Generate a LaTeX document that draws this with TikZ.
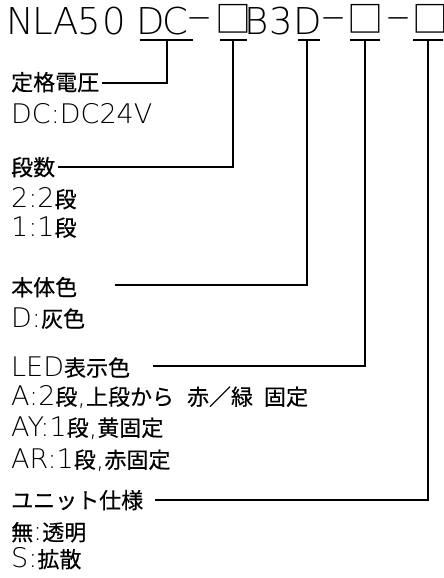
\documentclass[tikz,border=0pt]{standalone}
\usepackage{fontspec}
\newfontfamily\cjk{Noto Sans CJK JP}[FakeBold=0.4]
\newfontfamily\cjkbox{Noto Sans CJK JP}
\newfontfamily\lat{DejaVu Sans ExtraLight}
\newcommand\La[1]{{\lat\fontsize{27}{27}\selectfont #1}}
\begin{document}
\begin{tikzpicture}[x=1pt,y=-1pt,
  tt/.style={anchor=base,inner sep=0,font=\lat\fontsize{37}{37}\selectfont},
  dsh/.style={anchor=center,inner sep=0,xscale=1.3,font=\lat\fontsize{37}{37}\selectfont},
  bx/.style={anchor=center,inner sep=0,font=\cjkbox\fontsize{36}{36}\selectfont},
  lbl/.style={anchor=base west,inner sep=0,font=\cjk\fontsize{22}{22}\selectfont},
  ln/.style={line width=1.1pt}]
\useasboundingbox (0,0) rectangle (444,578);
% title
\node[tt] (t1) at (20,35) {N};
\node[tt] (t2) at (42.5,35) {L};
\node[tt] (t3) at (66,35) {A};
\node[tt] (t4) at (89,35) {5};
\node[tt] (t5) at (114,35) {0};
\node[tt] (t6) at (151,35) {D};
\node[tt] (t7) at (175,35) {C};
\node[dsh] (t8) at (199.5,23) {–};
\node[bx] (t9) at (233.5,19) {□};
\node[tt] (t10) at (257,35) {B};
\node[tt] (t11) at (281,35) {3};
\node[tt] (t12) at (308,35) {D};
\node[dsh] (t13) at (333.5,23) {–};
\node[bx] (t14) at (365,19) {□};
\node[dsh] (t15) at (398.5,23) {–};
\node[bx] (t16) at (430,19) {□};
% labels
\node[lbl] (n1) at (11,90.5) {定格電圧};
\node[lbl] (n2) at (11,123) {\La{DC:DC24V}};
\node[lbl] (n3) at (11,175.5) {段数};
\node[lbl] (n4) at (11,207.5) {\La{2:2}段};
\node[lbl] (n5) at (11,236) {\La{1:1}段};
\node[lbl] (n6) at (11,295.5) {本体色};
\node[lbl] (n7) at (11,327) {\La{D:}灰色};
\node[lbl] (n8) at (11,376) {\La{LED}表示色};
\node[lbl] (n9) at (11,405) {\La{A:2}段\La{,}上段から\hspace{13pt}赤／緑\hspace{11pt}固定};
\node[lbl] (n10) at (11,436) {\La{AY:1}段\La{,}黄固定};
\node[lbl] (n11) at (11,468) {\La{AR:1}段\La{,}赤固定};
\node[lbl] (n12) at (11,508.5) {ユニット仕様};
\node[lbl] (n13) at (11,540.5) {無\La{:}透明};
\node[lbl] (n14) at (11,567.5) {\La{S:}拡散};
% underline coordinates
\coordinate (a1) at (140,40); \coordinate (b1) at (193,40); \coordinate (u1) at (167,40);
\coordinate (a2) at (220,40); \coordinate (b2) at (247,40); \coordinate (u2) at (233,40);
\coordinate (a3) at (298,40); \coordinate (b3) at (320,40); \coordinate (u3) at (307,40);
\coordinate (a4) at (350,40); \coordinate (b4) at (380,40); \coordinate (u4) at (365,40);
\coordinate (a5) at (413,40); \coordinate (b5) at (443,40); \coordinate (u5) at (428,40);
% free ends of leaders
\coordinate (e1) at (102,83);
\coordinate (e2) at (58,167);
\coordinate (e3) at (115,285);
\coordinate (e4) at (153,366);
\coordinate (e5) at (155,500);
\foreach \i in {1,...,5} {
  \draw[ln] (a\i) -- (b\i);
  \draw[ln] (u\i) |- (e\i);
}
\end{tikzpicture}
\end{document}
